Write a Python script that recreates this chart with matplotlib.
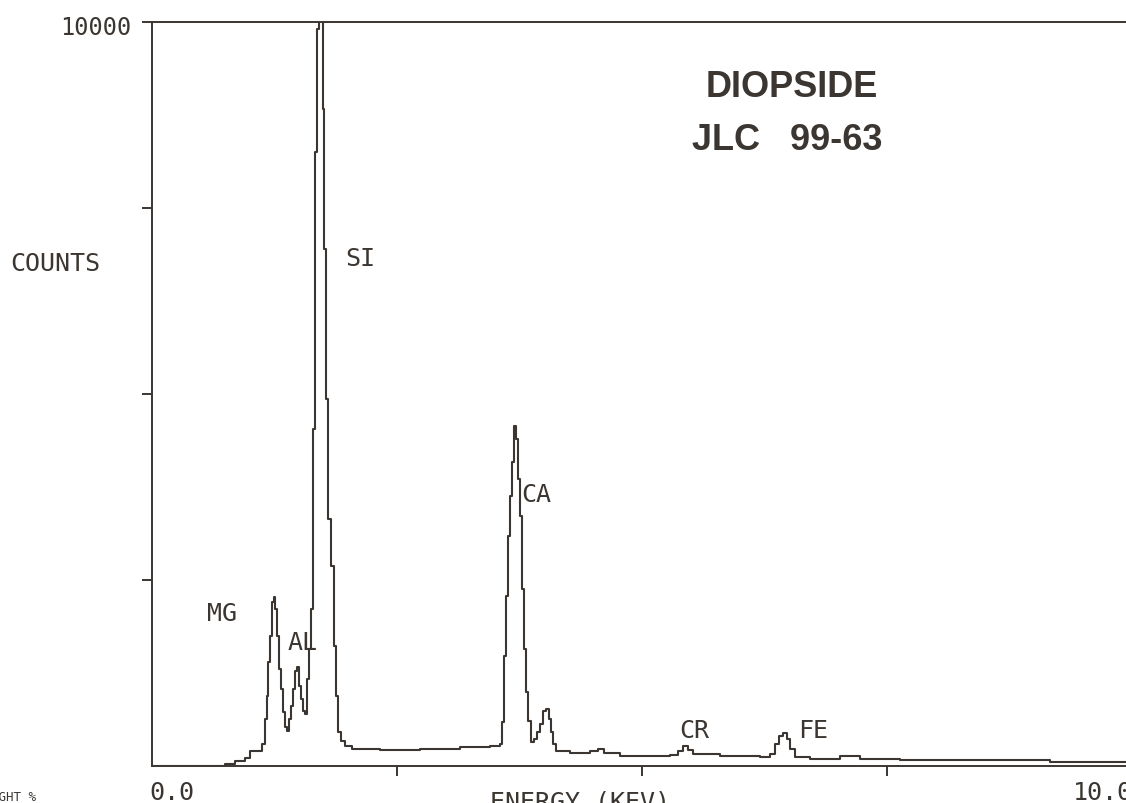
"""Spectre EDS du diopside (JLC 99-63), reproduction du tracé de l'analyseur."""
import numpy as np
import matplotlib
matplotlib.use('Agg')
import matplotlib.pyplot as plt

# Énergie de début de chaque canal (keV) et comptage associé
energy_kev = [0.00, 0.72, 0.74, 0.85, 0.95, 1.00, 1.12, 1.15, 1.17, 1.18,
              1.20, 1.22, 1.24, 1.26, 1.28, 1.30, 1.32, 1.34, 1.36, 1.38,
              1.40, 1.42, 1.44, 1.46, 1.48, 1.50, 1.52, 1.54, 1.56, 1.58,
              1.60, 1.62, 1.64, 1.66, 1.68, 1.70, 1.72, 1.74, 1.76, 1.78,
              1.80, 1.83, 1.86, 1.88, 1.90, 1.93, 1.97, 2.04, 2.33, 2.73,
              3.14, 3.45, 3.55, 3.57, 3.59, 3.61, 3.63, 3.65, 3.67, 3.69,
              3.71, 3.73, 3.76, 3.78, 3.80, 3.82, 3.84, 3.87, 3.90, 3.93,
              3.96, 3.99, 4.02, 4.05, 4.07, 4.09, 4.12, 4.27, 4.47, 4.55,
              4.61, 4.78, 5.08, 5.29, 5.37, 5.42, 5.47, 5.52, 5.80, 6.20,
              6.31, 6.36, 6.40, 6.44, 6.48, 6.51, 6.56, 6.71, 7.02, 7.22,
              7.63, 8.55, 9.16, 9.94, 10.00]
counts = [0, 0, 27, 67, 108, 200, 296, 632, 940, 1400,
          1750, 2200, 2270, 2110, 1750, 1300, 1035, 725, 525, 470,
          630, 805, 1035, 1275, 1330, 1075, 900, 740, 700, 1170,
          1570, 2110, 4530, 8250, 9900, 10400, 10400, 8830, 6950, 4930,
          3320, 2690, 1610, 940, 457, 336, 270, 228, 215, 228,
          255, 270, 296, 590, 1480, 2285, 3090, 3630, 4085, 4570,
          4395, 3860, 3360, 2380, 1570, 995, 605, 320, 363, 457,
          565, 740, 765, 632, 457, 296, 200, 175, 200, 228,
          175, 135, 135, 148, 200, 270, 215, 160, 135, 120,
          160, 296, 403, 445, 363, 228, 120, 94, 135, 94,
          80, 80, 54, 54, 54]

# Étiquettes des raies : (élément, énergie du coin gauche du texte, comptage de la ligne de base du texte)
line_names = ['MG', 'AL', 'SI', 'CA', 'CR', 'FE']
label_x = [0.56, 1.38, 1.97, 3.77, 5.38, 6.59]
label_y = [1960, 1570, 6730, 3560, 390, 390]

ink = '#3b3631'
mono = 'DejaVu Sans Mono'

fig = plt.figure(figsize=(11.26, 8.04), dpi=100)
ax = fig.add_axes([152 / 1126, 37 / 804, 980 / 1126, 744 / 804])

ax.step(energy_kev, counts, where='post', color=ink, lw=1.5)
ax.set_xlim(0, 10)
ax.set_ylim(0, 10000)

for s in ax.spines.values():
    s.set_color(ink)
    s.set_linewidth(1.4)

ax.set_xticks([2.5, 5.0, 7.5])
ax.set_yticks([2500, 5000, 7500, 10000])
ax.tick_params(axis='both', direction='out', length=7, width=1.4, color=ink,
               labelbottom=False, labelleft=False)

for name, x, y in zip(line_names, label_x, label_y):
    ax.text(x, y, name, family=mono, fontsize=18, color=ink, ha='left', va='baseline')

# Textes du traceur placés en coordonnées figure
fig.text(131 / 1126, 1 - 35 / 804, '10000', family=mono, fontsize=17, color=ink,
         ha='right', va='baseline')
fig.text(10 / 1126, 1 - 271 / 804, 'COUNTS', family=mono, fontsize=18, color=ink,
         ha='left', va='baseline')
fig.text(149 / 1126, 1 - 800 / 804, '0.0', family=mono, fontsize=18, color=ink,
         ha='left', va='baseline')
fig.text(1073 / 1126, 1 - 800 / 804, '10.0', family=mono, fontsize=18, color=ink,
         ha='left', va='baseline')
fig.text(580 / 1126, 1 - 810 / 804, 'ENERGY (KEV)', family=mono, fontsize=18, color=ink,
         ha='center', va='baseline')
fig.text(36 / 1126, 1 - 801 / 804, 'WEIGHT %', family=mono, fontsize=9, color=ink,
         ha='right', va='baseline')

fig.text(792 / 1126, 1 - 97 / 804, 'DIOPSIDE', family='Liberation Sans', fontsize=26,
         weight='bold', color=ink, ha='center', va='baseline')
fig.text(787 / 1126, 1 - 150 / 804, 'JLC   99-63', family='Liberation Sans', fontsize=26,
         weight='bold', color=ink, ha='center', va='baseline')

fig.savefig('out.png', dpi=100)
